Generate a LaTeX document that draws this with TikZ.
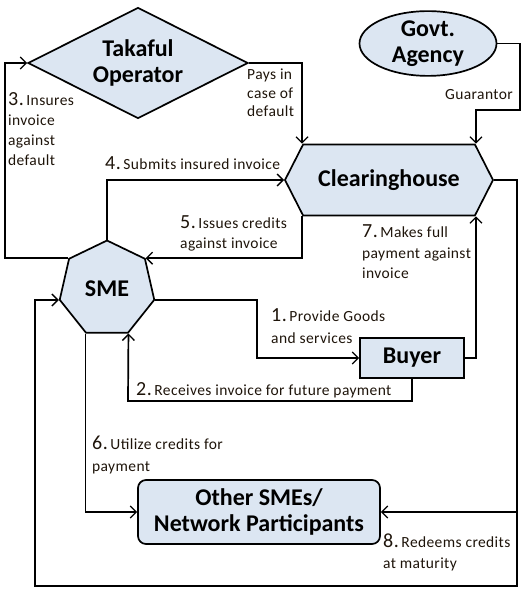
\documentclass[tikz,border=0pt]{standalone}
\usepackage{fontspec}
\setmainfont{Carlito}
\newfontfamily\notefont{Carlito}[LetterSpace=2.5]
\usetikzlibrary{shapes.geometric, shapes.symbols, arrows.meta, positioning, calc}
\definecolor{entityfill}{RGB}{220,230,242}
\definecolor{notetext}{RGB}{30,20,10}
\newcommand{\stepno}[1]{{\fontsize{20}{20}\selectfont #1.}\,}
\tikzset{
    entity/.style={draw=black, line width=1.7pt, fill=entityfill, font=\fontsize{24}{26}\selectfont\bfseries, align=center, inner sep=0pt},
    flow/.style={-{Straight Barb[length=6pt, width=12pt, line width=1.3pt]}, line width=1.7pt, black},
}

\begin{document}
\begin{tikzpicture}[
    x=1pt, y=-1pt,
    note/.style={font=\notefont\fontsize{15.5}{#1}\selectfont, align=left, anchor=base west, inner sep=0pt, text=notetext},
    note/.default=20,
    noteR/.style={note, anchor=base east, align=right}
]
\useasboundingbox (0,0) rectangle (527,593);

% Entities
\node[entity, diamond, aspect=2, minimum width=220pt, minimum height=111pt] (tak) at (138,63) {Takaful\\Operator};
\node[entity, ellipse, minimum width=137pt, minimum height=57pt] (govt) at (428,43.5) {Govt.\\Agency};
\node[entity, signal, signal to=west and east, signal pointer angle=126, minimum width=208pt, minimum height=71pt] (ch) at (389,180) {Clearinghouse};
\node[entity, regular polygon, regular polygon sides=7, minimum size=97pt] (sme) at (107,289) {SME};
\node[entity, rectangle, minimum width=104pt, minimum height=40pt] (buyer) at (412,358) {Buyer};
\node[entity, rectangle, rounded corners=8pt, minimum width=242pt, minimum height=64pt] (other) at (259,512) {Other SMEs/\\Network Participants};

% Turning points
\coordinate (ch-nw) at ($(ch.west |- ch.north)+(18,0)$);
\coordinate (ch-ne) at ($(ch.east |- ch.north)+(-18,0)$);
\coordinate (ch-sw) at ($(ch.west |- ch.south)+(18,0)$);
\coordinate (ch-se) at ($(ch.east |- ch.south)+(-18,0)$);
\coordinate (loop3) at (5,63);
\coordinate (g-turn) at (520,110);
\coordinate (s1-turn) at (257,330);
\coordinate (b2-turn) at (128,401);
\coordinate (rail-se) at (517,586);
\coordinate (rail-sw) at (35,586);

% Connectors
\draw[flow] (sme.corner 6) -| (s1-turn) |- (buyer.west);
\draw[flow] (buyer.south) |- (b2-turn) -- (sme.corner 5);
\draw[flow] (sme.corner 2) -| (loop3) -- (tak.west);
\draw[flow] (sme.corner 1) |- (ch.west);
\draw[flow] (ch-sw) |- (sme.corner 7);
\draw[flow] (sme.corner 4) |- (other.west);
\draw[flow] (buyer.east) -| (ch-se);
\draw[flow] (tak.east) -| (ch-nw);
\draw[flow] (govt.east) -| (g-turn) -| (ch-ne);
\draw[flow] (ch.east) -| (rail-se) -- (rail-sw) |- (sme.corner 3);
\draw[flow] (rail-se |- other.east) -- (other.east);

% Labels (anchored at the baseline of the last line)
\node[note] (n3) at (8,166) {\stepno{3}Insures\\invoice\\against\\default};
\node[note=18.5] (npay) at (247,117) {Pays in\\case of\\default};
\node[noteR] (ngua) at (513,100) {Guarantor};
\node[note] (n4) at (105,170) {\stepno{4}Submits insured invoice};
\node[note] (n5) at (180,248) {\stepno{5}Issues credits\\against invoice};
\node[note] (n7) at (362,278) {\stepno{7}Makes full\\payment against\\invoice};
\node[note=22] (n1) at (271,343) {\stepno{1}Provide Goods\\and services};
\node[note] (n2) at (136,395) {\stepno{2}Receives invoice for future payment};
\node[note=22] (n6) at (92,471) {\stepno{6}Utilize credits for\\payment};
\node[note=21] (n8) at (383,568) {\stepno{8}Redeems credits\\at maturity};

\end{tikzpicture}
\end{document}
